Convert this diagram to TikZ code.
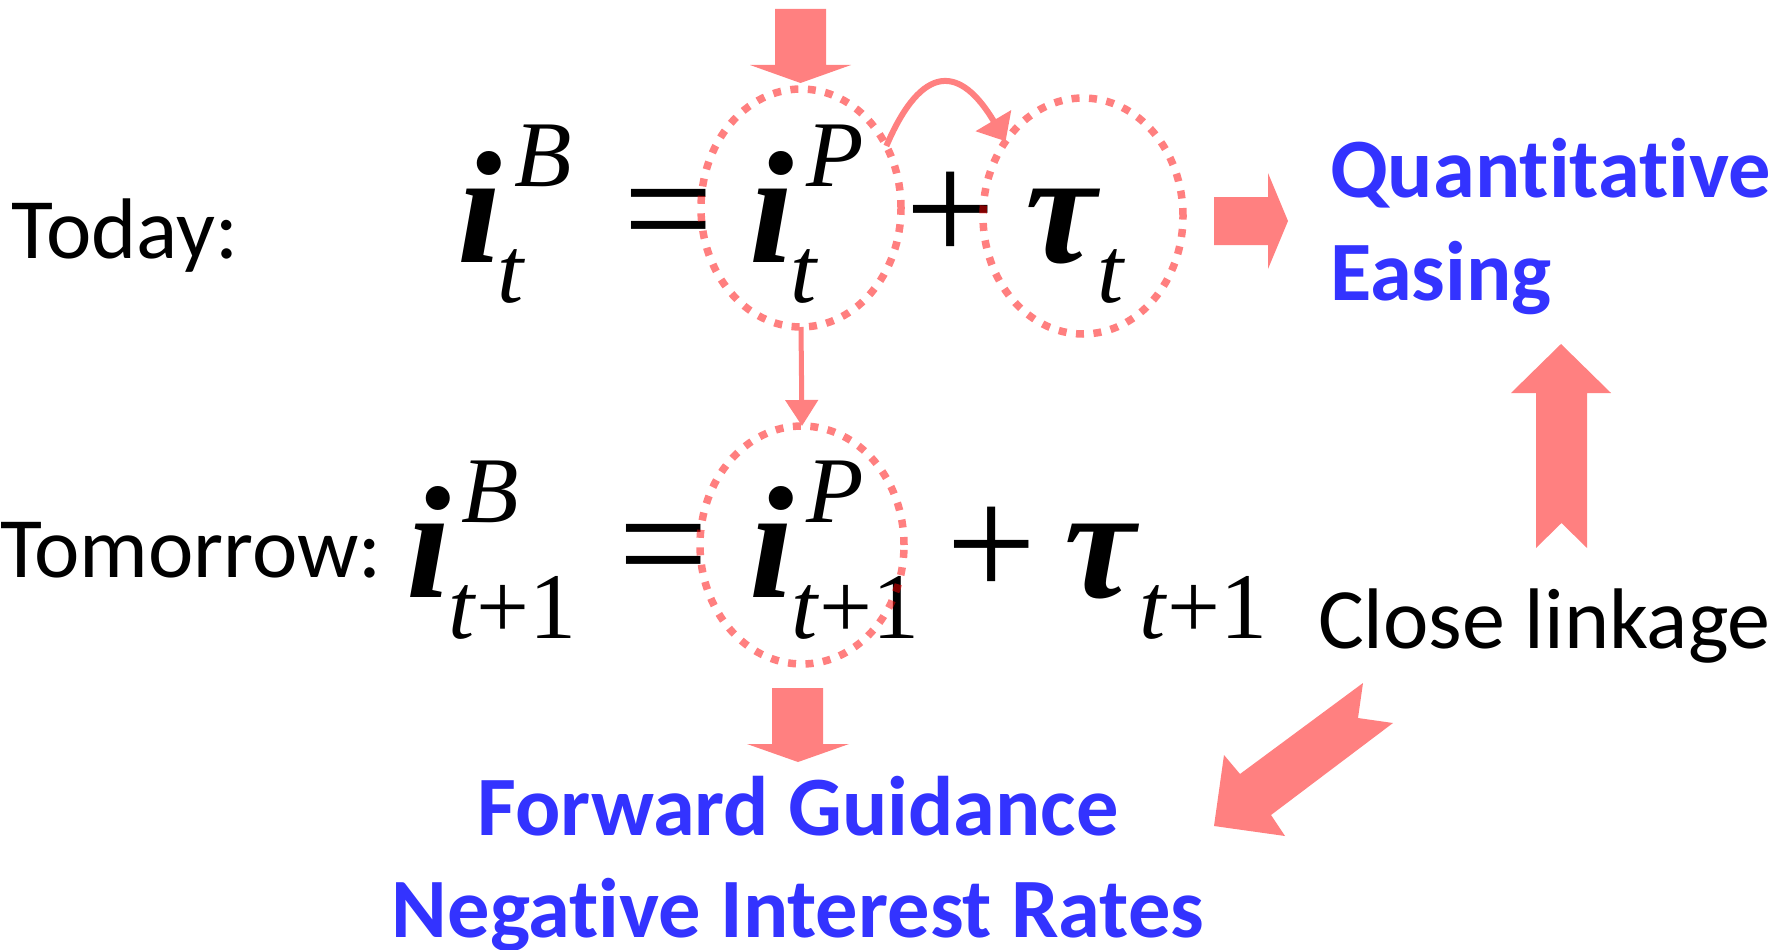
\documentclass[tikz,border=0pt]{standalone}
\usepackage{fontspec}
\setmainfont{Carlito}[Ligatures=NoCommon]
\newfontfamily\tms{Liberation Serif}
\usetikzlibrary{shapes.geometric,arrows.meta}
\definecolor{pinkc}{RGB}{255,128,128}
\definecolor{qblue}{RGB}{51,51,255}
\begin{document}
\begin{tikzpicture}[x=1pt,y=-1pt,
  lbl/.style={font=\fontsize{86}{86}\selectfont, inner sep=0, outer sep=0, anchor=base west},
  blu/.style={font=\fontsize{84.5}{84.5}\selectfont\bfseries, text=qblue, inner sep=0, outer sep=0},
  big/.style={font=\fontsize{160}{160}\selectfont\tms, inner sep=0, outer sep=0, anchor=base west},
  bigbi/.style={big, font=\fontsize{160}{160}\selectfont\tms\bfseries\itshape},
  scr/.style={font=\fontsize{94}{94}\selectfont\tms, inner sep=0, outer sep=0, anchor=base west},
  scri/.style={scr, font=\fontsize{94}{94}\selectfont\tms\itshape},
  ring/.style={ellipse, draw=red, draw opacity=0.5, line width=7.5pt, dash pattern=on 8pt off 9.5pt, inner sep=0, outer sep=0},
  thinarrow/.style={draw=pinkc, line width=5pt, -{Triangle[width=32pt,length=26pt]}},
  curvearrow/.style={draw=pinkc, line width=6pt, -{Triangle[width=40pt,length=24pt]}},
  block/.style={fill=pinkc, draw=none}
]
\useasboundingbox (0,0) rectangle (1791,950);
\fill[white] (0,0) rectangle (1791,950);

% labels
\node[lbl] (today) at (12,258) {Today:};
\node[lbl] (tomorrow) at (0,577) {Tomorrow:};
\node[lbl] (close) at (1318,648) {Close linkage};

% row 1
\node[bigbi] (iB1) at (457,262) {i};
\node[scri] (B1) at (514,186) {B};
\node[scri] (t1a) at (497,302) {t};
\node[big] (eq1) at (623,262) {=};
\node[bigbi] (iP1) at (749,262) {i};
\node[scri] (P1) at (806,186) {P};
\node[scri] (t1b) at (790,302) {t};
\node[big] (plus1) at (905,262) {+};
\node[bigbi] (tau1) at (1025,262) {τ};
\node[scri] (t1c) at (1097,302) {t};

% row 2
\node[bigbi] (iB2) at (406,597) {i};
\node[scri] (B2) at (461,522) {B};
\node[scr] (s2a) at (448,638) {{\itshape t}\kern2pt+1};
\node[big] (eq2) at (618,597) {=};
\node[bigbi] (iP2) at (749,597) {i};
\node[scri] (P2) at (806,522) {P};
\node[scr] (s2b) at (791,638) {{\itshape t}\kern2pt+1};
\node[big] (plus2) at (946,597) {+};
\node[bigbi] (tau2) at (1064,597) {τ};
\node[scr] (s2c) at (1139,638) {{\itshape t}\kern2pt+1};

% blue texts
\node[blu, anchor=base west] (qe1) at (1330,197) {Quantitative};
\node[blu, anchor=base west] (qe2) at (1330,300) {Easing};
\node[blu, anchor=base] (fg) at (798,835) {Forward Guidance};
\node[blu, anchor=base] (nir) at (798,937) {Negative Interest Rates};

% dotted rings
\node[ring, minimum width=200pt, minimum height=238pt] (C1) at (801,208) {};
\node[ring, minimum width=200pt, minimum height=236pt] (C2) at (1083,216) {};
\node[ring, minimum width=204pt, minimum height=238pt] (C3) at (802,545) {};

% connectors
\draw[thinarrow] (C1.south) -- (C3.north);
\draw[curvearrow] (C1.36) .. controls +(36,-84) and +(-45,-76) .. (C2.136);

% block arrows
\fill[block] (775,9) -- (826,9) -- (826,65) -- (851,65) -- (800.5,83) -- (750,65) -- (775,65) -- cycle;
\fill[block] (1214,197) -- (1268,197) -- (1268,173) -- (1288,221) -- (1268,269) -- (1268,245) -- (1214,245) -- cycle;
\fill[block] (1536,548) -- (1536,393) -- (1511,393) -- (1561,344) -- (1611,393) -- (1587,393) -- (1587,548) -- (1561.5,523) -- cycle;
\fill[block] (772,688) -- (823,688) -- (823,744) -- (849,744) -- (798,762) -- (747,744) -- (772,744) -- cycle;
\fill[block] (1363,683) -- (1358,718) -- (1393,723) -- (1271,815) -- (1285,836) -- (1214,826) -- (1224,755) -- (1240,774) -- cycle;
\end{tikzpicture}
\end{document}
